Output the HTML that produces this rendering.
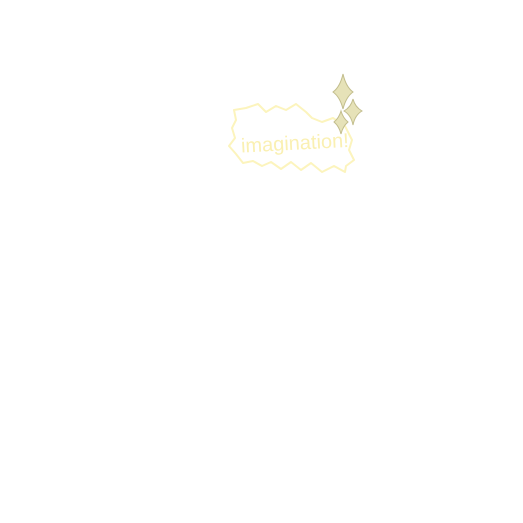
<!DOCTYPE html>
<html><head><meta charset="utf-8"><style>
html,body{margin:0;padding:0;background:#fff;width:523px;height:523px;overflow:hidden}
</style></head><body>
<svg width="523" height="523" viewBox="0 0 523 523" xmlns="http://www.w3.org/2000/svg">
<path d="M234,110 L246,108 L258,104 L266,112 L276,106 L286,110 L296,104 L306,112 L312,118 L322,122 L333,118 L345,126 L352,140 L349,150 L354,160 L346,166 L345,172 L334,166 L322,172 L311,163 L301,170 L291,162 L281,169 L271,162 L262,166 L253,161 L243,163 L236,154 L229,146 L235,138 L232,128 L236,120 Z" fill="none" stroke="#fcf4bd" stroke-width="2" stroke-linejoin="round"/>
<text x="241" y="150" font-family="Liberation Sans, sans-serif" font-size="20" fill="#faf0b2" transform="rotate(-3 290 145)">imagination!</text>
<g fill="#e6e2b8" stroke="#c2bd8c" stroke-width="1">
<path d="M343,74 Q346,87 353,92 Q346,97 343,109 Q340,97 333,92 Q340,87 343,74 Z"/>
<path d="M353,99 Q355,107 362,111 Q355,115 353,125 Q351,115 344,111 Q351,107 353,99 Z"/>
<path d="M341,111 Q343,118 348,122 Q343,126 341,134 Q339,126 334,122 Q339,118 341,111 Z"/>
</g>
</svg>
</body></html>
